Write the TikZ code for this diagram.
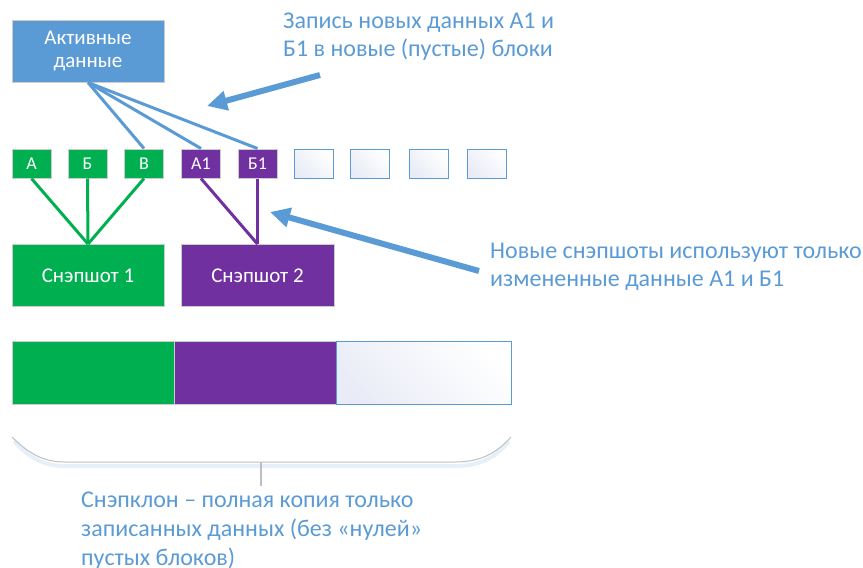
\documentclass[tikz,border=0pt]{standalone}
\usepackage{fontspec}
\setmainfont{Carlito}
\usetikzlibrary{arrows.meta}
\definecolor{verde}{HTML}{00B050}
\definecolor{roxo}{HTML}{7030A0}
\definecolor{azul}{HTML}{5B9BD5}
\definecolor{lilas}{HTML}{E9ECF6}

\begin{document}
\begin{tikzpicture}[x=1pt,y=-1pt,>={Triangle[length=20pt,width=19pt]},
	bloco/.style={draw=black!20,line width=1pt,minimum width=39pt,minimum height=29pt,inner sep=0pt,text=white,font=\fontsize{18}{18}\selectfont},
	vazio/.style={draw=azul,line width=1pt,minimum width=39pt,minimum height=29pt,inner sep=0pt,top color=lilas,bottom color=white,shading angle=135},
	caixa/.style={draw=black!20,line width=1pt,minimum width=152pt,minimum height=62pt,inner sep=0pt,text=white,font=\fontsize{21}{23}\selectfont,align=center},
	rotulo/.style={text=azul,font=\fontsize{24}{28}\selectfont,align=left,inner sep=0pt,anchor=north west},
	seta/.style={->,azul,line width=6pt},
	liga/.style={line width=3pt}]
	\useasboundingbox (0,0) rectangle (863,568);
	%dados ativos
	\node[caixa,fill=azul] (ativo) at (88,51) {Активные\\данные};
	%blocos
	\node[bloco,fill=verde] (A) at (31.5,163.5) {А};
	\node[bloco,fill=verde] (B) at (87.5,163.5) {Б};
	\node[bloco,fill=verde] (V) at (144,163.5) {В};
	\node[bloco,fill=roxo] (A1) at (201,163.5) {А1};
	\node[bloco,fill=roxo] (B1) at (257.5,163.5) {Б1};
	\foreach \x/\n in {314/e1,370/e2,429/e3,487/e4}
		\node[vazio] (\n) at (\x,163.5) {};
	%snapshots
	\node[caixa,fill=verde] (snap1) at (88,275.5) {Снэпшот 1};
	\node[caixa,fill=roxo,minimum width=153pt] (snap2) at (257.5,275.5) {Снэпшот 2};
	%ligacoes
	\draw[liga,azul] (ativo.south) -- (V.north);
	\draw[liga,azul] (ativo.south) -- (A1.north);
	\draw[liga,azul] (ativo.south) -- (B1.north);
	\foreach \b in {A,B,V}
		\draw[liga,verde] (\b.south) -- (snap1.north);
	\draw[liga,roxo] (A1.south) -- (snap2.north);
	\draw[liga,roxo] (B1.south) -- (snap2.north);
	%setas e rotulos
	\node[rotulo] (txtcima) at (283,13) {Запись новых данных А1 и\\Б1 в новые (пустые) блоки};
	\node[rotulo] (txtdir) at (490,243) {Новые снэпшоты используют только\\измененные данные А1 и Б1};
	\coordinate (s1) at (320,75);
	\coordinate (p1) at (207,106);
	\coordinate (s2) at (479,271);
	\coordinate (p2) at (270,212);
	\draw[seta] (s1) -- (p1);
	\draw[seta] (s2) -- (p2);
	%snapklon
	\node[fill=verde,draw=black!20,minimum width=162pt,minimum height=63pt,inner sep=0pt] (k1) at (93,372.5) {};
	\node[fill=roxo,draw=black!20,minimum width=162pt,minimum height=63pt,inner sep=0pt] (k2) at (255,372.5) {};
	\node[draw=azul,line width=1pt,top color=lilas,bottom color=white,shading angle=135,minimum width=175pt,minimum height=63pt,inner sep=0pt] (k3) at (423.5,372.5) {};
	%chave
	\draw[azul!15,line width=4pt] (14,441) .. controls (30,459) and (45,466) .. (65,466) -- (455,466) .. controls (478,466) and (495,459) .. (509,441);
	\draw[black!25,line width=1pt] (12,437) .. controls (30,455) and (45,462) .. (65,462) -- (455,462) .. controls (478,462) and (495,455) .. (511,437);
	\coordinate (c1) at (261,462);
	\coordinate (c2) at (261,486);
	\draw[black!25,line width=1.5pt] (c1) -- (c2);
	\node[rotulo,font=\fontsize{24}{29}\selectfont] (txtbaixo) at (81,492) {Снэпклон – полная копия только\\записанных данных (без «нулей»\\пустых блоков)};
\end{tikzpicture}
\end{document}
